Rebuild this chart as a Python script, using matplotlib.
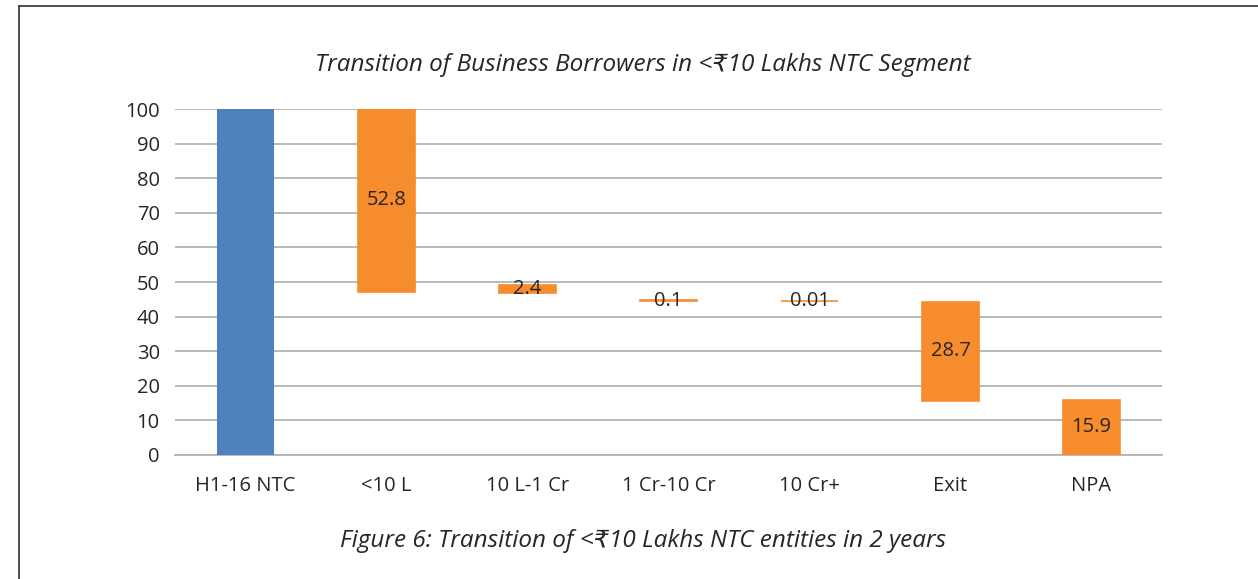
import numpy as np
import matplotlib.pyplot as plt
from matplotlib.lines import Line2D

plt.rcParams['font.family'] = ['Open Sans', 'DejaVu Sans']

# data
categories = ['H1-16 NTC', '<10 L', '10 L-1 Cr', '1 Cr-10 Cr', '10 Cr+', 'Exit', 'NPA']
# invisible base series of the waterfall and visible values
base = [0, 47.2, 46.8, 44.6, 44.6, 15.6, 0]
values = [100, 52.8, 2.4, 0.1, 0.01, 28.7, 15.9]
value_labels = ['', '52.8', '2.4', '0.1', '0.01', '28.7', '15.9']
yticks = list(range(0, 101, 10))

blue = '#4F81BD'
orange = '#F68C2C'
text_col = '#262626'

fig = plt.figure(figsize=(12.58, 5.79), dpi=100)
ax = fig.add_axes([0.1391, 0.2142, 0.7846, 0.5975])

x = np.arange(len(categories))
colors = [blue] + [orange] * (len(categories) - 1)
ax.bar(x, values, bottom=base, width=0.4, color=colors, edgecolor=colors,
       linewidth=[0] + [1.2] * (len(categories) - 1), zorder=3)

for xi, b, v, lab in zip(x, base, values, value_labels):
    if lab:
        ax.text(xi, b + v / 2, lab, ha='center', va='center', fontsize=14.5,
                color=text_col, zorder=4)

ax.set_xlim(-0.5, len(categories) - 0.5)
ax.set_ylim(0, 100)
ax.set_yticks(yticks)
ax.set_xticks(x)
ax.set_xticklabels(categories)
ax.tick_params(axis='both', length=0, labelsize=14.5, colors=text_col)
ax.tick_params(axis='x', pad=15)
ax.tick_params(axis='y', pad=11)
ax.yaxis.grid(True, color='#b3b3b3', linewidth=1.3, zorder=0)
ax.set_axisbelow(True)
for s in ['top', 'right', 'left']:
    ax.spines[s].set_visible(False)
ax.spines['bottom'].set_color('#b3b3b3')
ax.spines['bottom'].set_linewidth(1.3)

fig.text(0.511, 0.888, 'Transition of Business Borrowers in <₹10 Lakhs NTC Segment',
         ha='center', va='center', fontsize=17.5, style='italic', color=text_col)
fig.text(0.511, 0.066, 'Figure 6: Transition of <₹10 Lakhs NTC entities in 2 years',
         ha='center', va='center', fontsize=17.5, style='italic', color=text_col)

# outer frame
fig.add_artist(Line2D([19 / 1258, 19 / 1258], [0, 1 - 6 / 579], color='#404040', linewidth=1.3))
fig.add_artist(Line2D([19 / 1258, 1], [1 - 6 / 579, 1 - 6 / 579], color='#404040', linewidth=1.3))

plt.savefig('out.png', dpi=100)
